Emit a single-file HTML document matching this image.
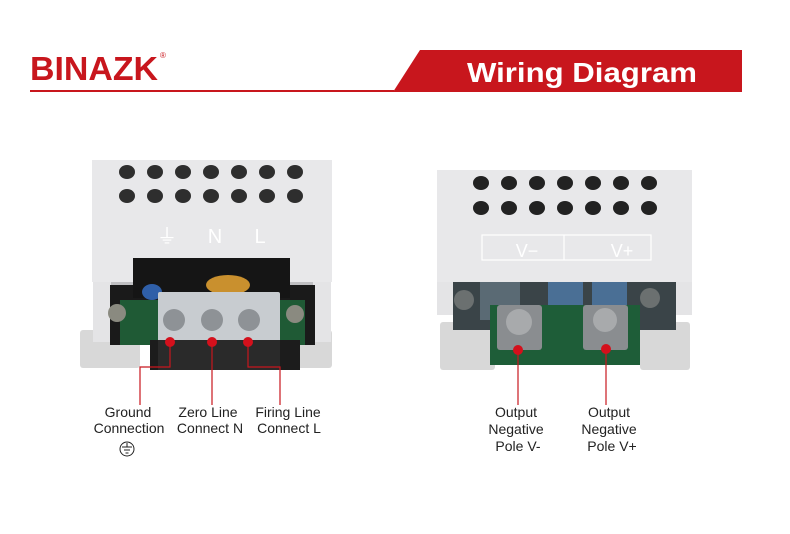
<!DOCTYPE html>
<html><head><meta charset="utf-8"><style>
body{margin:0;width:790px;height:534px;background:#fff;overflow:hidden}
svg{display:block}
text{font-family:"Liberation Sans",sans-serif}
</style></head><body>
<svg width="790" height="534" viewBox="0 0 790 534" xmlns="http://www.w3.org/2000/svg">
<!-- header -->
<text x="30" y="80" font-size="33" font-weight="bold" fill="#c8161d" textLength="128" lengthAdjust="spacingAndGlyphs">BINAZK</text>
<text x="160" y="58" font-size="8" fill="#c8161d">®</text>
<rect x="30" y="90" width="364" height="2" fill="#c8161d"/>
<polygon points="420,50 742,50 742,92 393,92" fill="#c8161d"/>
<text x="467" y="82" font-size="28" font-weight="bold" fill="#fff" textLength="230" lengthAdjust="spacingAndGlyphs">Wiring Diagram</text>

<!-- LEFT DEVICE -->
<g>
<rect x="80" y="330" width="60" height="38" fill="#d8d8d8" rx="3"/>
<rect x="282" y="330" width="50" height="38" fill="#d8d8d8" rx="3"/>
<rect x="93" y="232" width="238" height="110" fill="#bfbfc2"/>
<rect x="93" y="232" width="18" height="110" fill="#e4e4e6"/>
<rect x="313" y="232" width="18" height="110" fill="#e4e4e6"/>
<rect x="110" y="285" width="205" height="60" fill="#1a1a1a"/>
<rect x="120" y="300" width="185" height="45" fill="#1f5a35"/>
<rect x="92" y="160" width="240" height="122" fill="#e8e8ea"/>
<rect x="133" y="258" width="157" height="40" fill="#151515"/>
<ellipse cx="228" cy="285" rx="22" ry="10" fill="#c9902e"/>
<ellipse cx="152" cy="292" rx="10" ry="8" fill="#2f5fa8"/>
<circle cx="117" cy="313" r="9" fill="#8a8a80"/>
<circle cx="295" cy="314" r="9" fill="#8a8a80"/>
<rect x="150" y="340" width="150" height="30" fill="#1c1c1c"/>
<rect x="158" y="292" width="122" height="50" fill="#c8ccd0" rx="2"/>
<rect x="158" y="340" width="122" height="30" fill="#2a2a2a"/>
<circle cx="174" cy="320" r="11" fill="#8e9296"/>
<circle cx="212" cy="320" r="11" fill="#8e9296"/>
<circle cx="249" cy="320" r="11" fill="#8e9296"/>
<g fill="#2e2e2e">
<ellipse cx="127" cy="172" rx="8" ry="7"/><ellipse cx="155" cy="172" rx="8" ry="7"/><ellipse cx="183" cy="172" rx="8" ry="7"/><ellipse cx="211" cy="172" rx="8" ry="7"/><ellipse cx="239" cy="172" rx="8" ry="7"/><ellipse cx="267" cy="172" rx="8" ry="7"/><ellipse cx="295" cy="172" rx="8" ry="7"/>
<ellipse cx="127" cy="196" rx="8" ry="7"/><ellipse cx="155" cy="196" rx="8" ry="7"/><ellipse cx="183" cy="196" rx="8" ry="7"/><ellipse cx="211" cy="196" rx="8" ry="7"/><ellipse cx="239" cy="196" rx="8" ry="7"/><ellipse cx="267" cy="196" rx="8" ry="7"/><ellipse cx="295" cy="196" rx="8" ry="7"/>
</g>
<text x="167" y="243" font-size="20" fill="#fff" text-anchor="middle">⏚</text>
<text x="215" y="243" font-size="20" fill="#fff" text-anchor="middle">N</text>
<text x="260" y="243" font-size="20" fill="#fff" text-anchor="middle">L</text>
<g stroke="#c8161d" stroke-width="1.2" fill="none">
<polyline points="170,342 170,367 140,367 140,405"/>
<line x1="212" y1="342" x2="212" y2="405"/>
<polyline points="248,342 248,367 280,367 280,405"/>
</g>
<g fill="#d4101c"><circle cx="170" cy="342" r="5"/><circle cx="212" cy="342" r="5"/><circle cx="248" cy="342" r="5"/></g>
</g>

<!-- RIGHT DEVICE -->
<g>
<rect x="440" y="322" width="55" height="48" fill="#d8d8d8" rx="3"/>
<rect x="640" y="322" width="50" height="48" fill="#d8d8d8" rx="3"/>
<rect x="437" y="240" width="255" height="75" fill="#bfbfc2"/>
<rect x="437" y="240" width="16" height="75" fill="#e4e4e6"/>
<rect x="676" y="240" width="16" height="75" fill="#e4e4e6"/>
<rect x="453" y="280" width="223" height="50" fill="#3a4448"/>
<rect x="480" y="280" width="40" height="40" fill="#5a6a74"/>
<rect x="548" y="280" width="35" height="40" fill="#4a6f95"/>
<rect x="592" y="280" width="35" height="40" fill="#4a6f95"/>
<rect x="490" y="305" width="150" height="60" fill="#1e5d38"/>
<rect x="437" y="170" width="255" height="112" fill="#e8e8ea"/>
<rect x="482" y="235" width="169" height="25" fill="none" stroke="#fff" stroke-width="1.2"/>
<line x1="564" y1="235" x2="564" y2="260" stroke="#fff" stroke-width="1.2"/>
<text x="527" y="257" font-size="18" fill="#fff" text-anchor="middle">V−</text>
<text x="622" y="257" font-size="18" fill="#fff" text-anchor="middle">V+</text>
<g fill="#222">
<ellipse cx="481" cy="183" rx="8" ry="7"/><ellipse cx="509" cy="183" rx="8" ry="7"/><ellipse cx="537" cy="183" rx="8" ry="7"/><ellipse cx="565" cy="183" rx="8" ry="7"/><ellipse cx="593" cy="183" rx="8" ry="7"/><ellipse cx="621" cy="183" rx="8" ry="7"/><ellipse cx="649" cy="183" rx="8" ry="7"/>
<ellipse cx="481" cy="208" rx="8" ry="7"/><ellipse cx="509" cy="208" rx="8" ry="7"/><ellipse cx="537" cy="208" rx="8" ry="7"/><ellipse cx="565" cy="208" rx="8" ry="7"/><ellipse cx="593" cy="208" rx="8" ry="7"/><ellipse cx="621" cy="208" rx="8" ry="7"/><ellipse cx="649" cy="208" rx="8" ry="7"/>
</g>
<rect x="497" y="305" width="45" height="45" fill="#8a8d90" rx="3"/>
<circle cx="519" cy="322" r="13" fill="#a8aaac"/>
<rect x="583" y="305" width="45" height="45" fill="#8a8d90" rx="3"/>
<circle cx="605" cy="320" r="12" fill="#a8aaac"/>
<circle cx="464" cy="300" r="10" fill="#6b7070"/>
<circle cx="650" cy="298" r="10" fill="#6b7070"/>
<g stroke="#c8161d" stroke-width="1.2"><line x1="518" y1="350" x2="518" y2="405"/><line x1="606" y1="349" x2="606" y2="405"/></g>
<g fill="#d4101c"><circle cx="518" cy="350" r="5"/><circle cx="606" cy="349" r="5"/></g>
</g>

<!-- labels -->
<g font-size="14" fill="#222" text-anchor="middle">
<text x="128" y="417">Ground</text><text x="129" y="433">Connection</text>
<text x="208" y="417">Zero Line</text><text x="210" y="433">Connect N</text>
<text x="288" y="417">Firing Line</text><text x="289" y="433">Connect L</text>
<text x="516" y="417">Output</text><text x="516" y="434">Negative</text><text x="518" y="451">Pole V-</text>
<text x="609" y="417">Output</text><text x="609" y="434">Negative</text><text x="612" y="451">Pole V+</text>
</g>
<circle cx="127" cy="449" r="7" fill="none" stroke="#222" stroke-width="1"/>
<g stroke="#222" stroke-width="1"><line x1="127" y1="443" x2="127" y2="447"/><line x1="122" y1="447" x2="132" y2="447"/><line x1="124" y1="450" x2="130" y2="450"/><line x1="125.5" y1="453" x2="128.5" y2="453"/></g>
</svg>
</body></html>
